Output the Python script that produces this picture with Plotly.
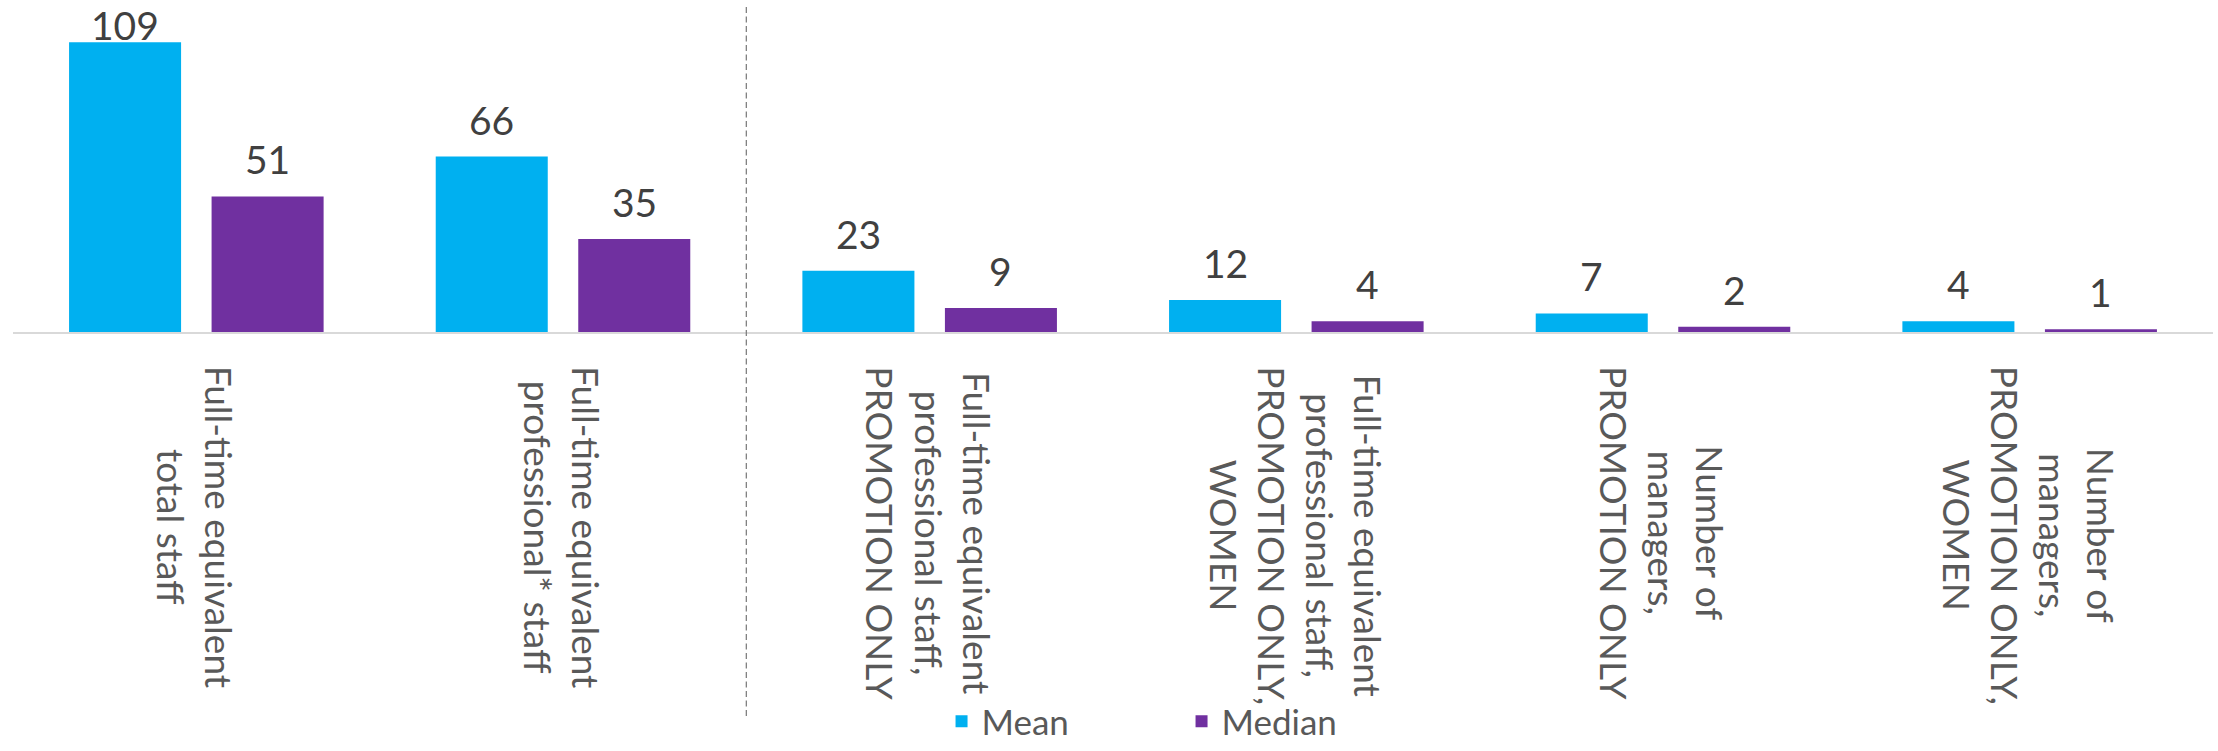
import plotly.graph_objects as go

# --- data -------------------------------------------------------------
categories = [
    "Full-time equivalent<br>total staff",
    "Full-time equivalent<br>professional* staff",
    "Full-time equivalent<br>professional staff,<br>PROMOTION ONLY",
    "Full-time equivalent<br>professional staff,<br>PROMOTION ONLY,<br>WOMEN",
    "Number of<br>managers,<br>PROMOTION ONLY",
    "Number of<br>managers,<br>PROMOTION ONLY,<br>WOMEN",
]
series_names = ["Mean", "Median"]
mean_values = [109, 66, 23, 12, 7, 4]
median_values = [51, 35, 9, 4, 2, 1]

# --- style ------------------------------------------------------------
COLORS = {"Mean": "#00B0F0", "Median": "#7030A0"}
FONT = "Lato, 'Open Sans', sans-serif"
BARGAP = 0.2226
BARGROUPGAP = 0.214
Y_MAX = 124.9
LABEL_CEIL = 101.5  # labels of taller bars are kept inside the chart area

fig = go.Figure()
series = {"Mean": mean_values, "Median": median_values}
for name in series_names:
    fig.add_trace(go.Bar(
        name=name,
        x=categories,
        y=series[name],
        marker=dict(color=COLORS[name], line=dict(width=0)),
        hoverinfo="x+y+name",
    ))

# value labels above each bar (centred on its slot in the group)
slot = (1 - BARGAP) / len(series_names)
annotations = []
for s_idx, name in enumerate(series_names):
    offset = (s_idx - (len(series_names) - 1) / 2) * slot
    for i, v in enumerate(series[name]):
        annotations.append(dict(
            x=i + offset, xref="x",
            y=min(v, LABEL_CEIL), yref="y",
            text=str(v), showarrow=False,
            xanchor="center", yanchor="bottom", yshift=12,
            font=dict(family=FONT, size=39, color="#404040"),
        ))

# rotated category labels below the axis, lines centred on each other
for i, cat in enumerate(categories):
    annotations.append(dict(
        x=i, xref="x", y=0, yref="paper",
        text=cat, showarrow=False, textangle=90,
        xanchor="center", yanchor="top", yshift=-32, align="center",
        font=dict(family=FONT, size=37, color="#595959"),
    ))

fig.update_layout(
    width=2218, height=751, autosize=False,
    margin=dict(l=13, r=5, t=0, b=419),
    paper_bgcolor="white", plot_bgcolor="white",
    barmode="group", bargap=BARGAP, bargroupgap=BARGROUPGAP,
    font=dict(family=FONT, color="#595959"),
    xaxis=dict(
        type="category", showticklabels=False, ticks="",
        showline=True, linecolor="#D9D9D9", linewidth=2,
        showgrid=False, zeroline=False,
    ),
    yaxis=dict(range=[0, Y_MAX], visible=False, showgrid=False, zeroline=False),
    legend=dict(
        orientation="h", xref="container", yref="container",
        x=0.4245, xanchor="left", y=0, yanchor="bottom",
        font=dict(family=FONT, size=35, color="#595959"),
        entrywidth=195, entrywidthmode="pixels",
        bgcolor="rgba(0,0,0,0)",
    ),
    annotations=annotations,
    shapes=[dict(
        type="line", xref="x", yref="paper",
        x0=1.5, x1=1.5, y0=-1.157, y1=0.982,
        line=dict(color="#808080", width=1.3, dash="6px,3.5px"),
        layer="above",
    )],
    showlegend=True,
)

fig.write_html("out.html")
